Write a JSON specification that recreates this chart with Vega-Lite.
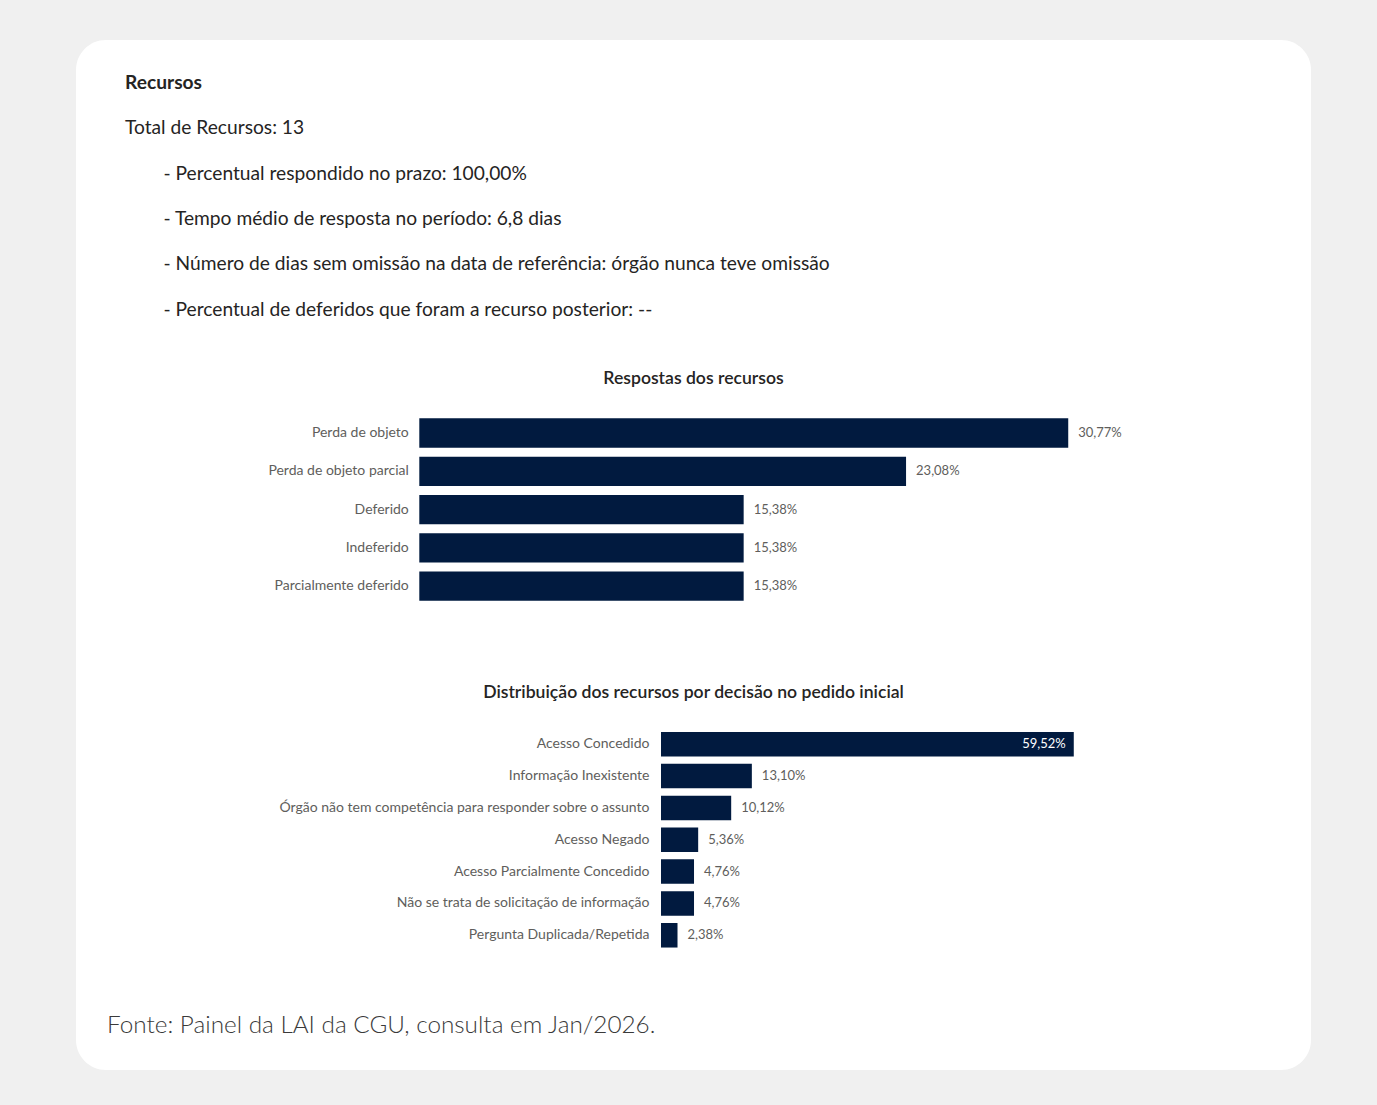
{
  "$schema": "https://vega.github.io/schema/vega-lite/v6.json",
  "width": 1235,
  "height": 1030,
  "autosize": {"type": "none"},
  "padding": {"left": 76, "top": 40, "right": 66, "bottom": 35},
  "background": "#f0f0f0",
  "config": {
    "font": "Lato",
    "view": {"fill": "white", "stroke": null, "cornerRadius": 30},
    "locale": {"number": {"decimal": ",", "thousands": ".", "grouping": [3], "currency": ["R$", ""]}}
  },
  "title": {
    "text": "Fonte: Painel da LAI da CGU, consulta em Jan/2026.",
    "orient": "bottom",
    "anchor": "start",
    "frame": "group",
    "dx": 31,
    "offset": -37,
    "baseline": "alphabetic",
    "font": "Lato",
    "fontWeight": 300,
    "fontSize": 24.3,
    "color": "#3a3a3a"
  },
  "layer": [
    {
      "data": {"values": [
        {"ordem": 1, "nivel": 0, "tipo": "titulo", "texto": "Recursos"},
        {"ordem": 2, "nivel": 0, "tipo": "linha", "texto": "Total de Recursos: 13"},
        {"ordem": 3, "nivel": 1, "tipo": "linha", "texto": "- Percentual respondido no prazo: 100,00%"},
        {"ordem": 4, "nivel": 1, "tipo": "linha", "texto": "- Tempo médio de resposta no período: 6,8 dias"},
        {"ordem": 5, "nivel": 1, "tipo": "linha", "texto": "- Número de dias sem omissão na data de referência: órgão nunca teve omissão"},
        {"ordem": 6, "nivel": 1, "tipo": "linha", "texto": "- Percentual de deferidos que foram a recurso posterior: --"}
      ]},
      "mark": {
        "type": "text",
        "align": "left",
        "baseline": "alphabetic",
        "fontSize": 19.2,
        "color": "#252423",
        "fontWeight": {"expr": "datum.tipo === 'titulo' ? 'bold' : 'normal'"}
      },
      "encoding": {
        "x": {"field": "nivel", "type": "quantitative", "scale": {"domain": [0, 1], "range": [49, 87.5], "nice": false, "zero": false}, "axis": null},
        "y": {"field": "ordem", "type": "ordinal", "scale": {"type": "point", "range": [48.7, 275.7], "padding": 0}, "axis": null},
        "text": {"field": "texto", "type": "nominal"}
      }
    },
    {
      "data": {"values": [
        {"ordem": 1, "titulo": "Respostas dos recursos"},
        {"ordem": 2, "titulo": "Distribuição dos recursos por decisão no pedido inicial"}
      ]},
      "mark": {"type": "text", "align": "center", "baseline": "alphabetic", "fontSize": 17.6, "fontWeight": 600, "color": "#252423"},
      "encoding": {
        "y": {"field": "ordem", "type": "ordinal", "scale": {"type": "point", "range": [344.3, 658.3], "padding": 0}, "axis": null},
        "text": {"field": "titulo", "type": "nominal"}
      }
    },
    {
      "data": {"values": [
        {"resposta": "Perda de objeto", "pct": 0.3077},
        {"resposta": "Perda de objeto parcial", "pct": 0.2308},
        {"resposta": "Deferido", "pct": 0.1538},
        {"resposta": "Indeferido", "pct": 0.1538},
        {"resposta": "Parcialmente deferido", "pct": 0.1538}
      ]},
      "encoding": {
        "y": {
          "field": "resposta", "type": "nominal", "sort": null,
          "scale": {"range": [373.85, 565.35], "paddingInner": 0.235, "paddingOuter": 0.1175},
          "axis": {"orient": "left", "offset": -343.3, "domain": false, "ticks": false, "tickSize": 0, "grid": false, "labelPadding": 11, "labelLimit": 600, "title": null, "labelFont": "Lato", "labelFontSize": 14, "labelColor": "#605e5c"}
        },
        "x": {"field": "pct", "type": "quantitative", "scale": {"domain": [-0.16278, 0.42281], "nice": false}, "axis": null}
      },
      "layer": [
        {"mark": {"type": "bar", "color": "#011a3f"}},
        {
          "mark": {"type": "text", "align": "left", "baseline": "middle", "dx": 10, "fontSize": 13, "color": "#605e5c"},
          "encoding": {"text": {"field": "pct", "type": "quantitative", "format": ".2%"}}
        }
      ]
    },
    {
      "data": {"values": [
        {"decisao": "Acesso Concedido", "pct": 0.5952},
        {"decisao": "Informação Inexistente", "pct": 0.1310},
        {"decisao": "Órgão não tem competência para responder sobre o assunto", "pct": 0.1012},
        {"decisao": "Acesso Negado", "pct": 0.0536},
        {"decisao": "Acesso Parcialmente Concedido", "pct": 0.0476},
        {"decisao": "Não se trata de solicitação de informação", "pct": 0.0476},
        {"decisao": "Pergunta Duplicada/Repetida", "pct": 0.0238}
      ]},
      "encoding": {
        "y": {
          "field": "decisao", "type": "nominal", "sort": null,
          "scale": {"range": [688.3, 911.2], "paddingInner": 0.23, "paddingOuter": 0.115},
          "axis": {"orient": "left", "offset": -585, "domain": false, "ticks": false, "tickSize": 0, "grid": false, "labelPadding": 12, "labelLimit": 600, "title": null, "labelFont": "Lato", "labelFontSize": 14, "labelColor": "#605e5c"}
        },
        "x": {"field": "pct", "type": "quantitative", "scale": {"domain": [-0.84355, 0.93727], "nice": false}, "axis": null}
      },
      "layer": [
        {"mark": {"type": "bar", "color": "#011a3f"}},
        {
          "mark": {
            "type": "text",
            "baseline": "middle",
            "fontSize": 13,
            "align": {"expr": "datum.pct > 0.5 ? 'right' : 'left'"},
            "dx": {"expr": "datum.pct > 0.5 ? -8 : 10"}
          },
          "encoding": {
            "text": {"field": "pct", "type": "quantitative", "format": ".2%"},
            "color": {"condition": {"test": "datum.pct > 0.5", "value": "white"}, "value": "#605e5c"}
          }
        }
      ]
    }
  ],
  "resolve": {"scale": {"x": "independent", "y": "independent"}}
}
